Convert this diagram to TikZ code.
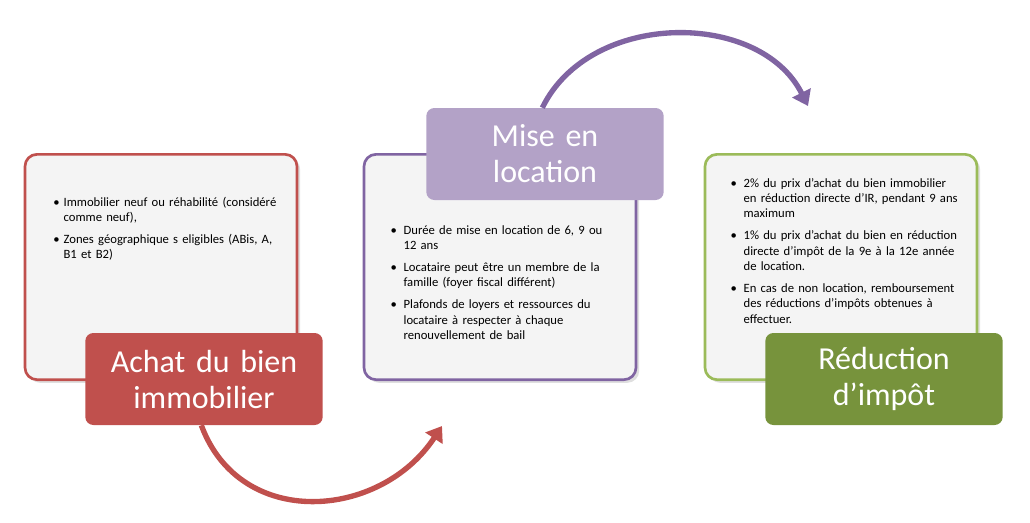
\documentclass[tikz,border=0pt]{standalone}
\usepackage{fontspec}
\setmainfont{Carlito}
\usetikzlibrary{arrows.meta,shadows}
\colorlet{col1}{red!60!black!50!orange!40!red}
\definecolor{col1}{HTML}{C0504D}
\definecolor{col2}{HTML}{8064A2}
\definecolor{col2lt}{HTML}{B3A2C7}
\definecolor{col3}{HTML}{9BBB59}
\definecolor{col3dk}{HTML}{77933C}
\definecolor{boxfill}{HTML}{F4F4F4}

\tikzset{
  infobox/.style={draw, line width=2pt, fill=boxfill, rounded corners=9pt,
    minimum width=204pt, minimum height=169pt, drop shadow={opacity=0.25}},
  titlebox/.style={fill, rounded corners=6pt, minimum width=178pt, minimum height=69pt,
    text width=170pt, align=center, font=\fontsize{24}{27}\selectfont, text=white},
  bullets/.style={anchor=north west, text width=186pt, font=\fontsize{9.5}{11.5}\selectfont, inner sep=0pt},
  cyclearrow/.style={line width=4pt, -{Triangle[width=15pt,length=11pt]}}
}

\begin{document}
\begin{tikzpicture}[x=0.75pt,y=-0.75pt]
  \useasboundingbox (0,0) rectangle (1030,522);

  % box 1
  \node[infobox, draw=col1] (box1) at (161,267) {};
  \node[bullets] (txt1) at (30,180) {\begin{itemize}\setlength{\itemsep}{1pt}\setlength{\leftmargin}{8pt}\setlength{\labelsep}{3pt}
    \item Immobilier neuf ou réhabilité (considéré comme neuf),
    \item Zones géographique s eligibles (ABis, A, B1 et B2)
  \end{itemize}};
  \node[titlebox, fill=col1, text=white] (title1) at (204,379) {Achat du bien\\immobilier};

  % box 2
  \node[infobox, draw=col2] (box2) at (500,267) {};
  \node[bullets] (txt2) at (370,208) {\begin{itemize}\setlength{\itemsep}{1pt}
    \item Durée de mise en location de 6, 9 ou 12 ans
    \item Locataire peut être un membre de la famille (foyer fiscal différent)
    \item Plafonds de loyers et ressources du locataire à respecter à chaque renouvellement de bail
  \end{itemize}};
  \node[titlebox, fill=col2lt] (title2) at (545,154) {Mise en\\location};

  % box 3
  \node[infobox, draw=col3] (box3) at (841,267) {};
  \node[bullets] (txt3) at (710,161) {\begin{itemize}\setlength{\itemsep}{1pt}
    \item 2\% du prix d'achat du bien immobilier en réduction directe d'IR, pendant 9 ans maximum
    \item 1\% du prix d'achat du bien en réduction directe d'impôt de la 9e à la 12e année de location.
    \item En cas de non location, remboursement des réductions d'impôts obtenues à effectuer.
  \end{itemize}};
  \node[titlebox, fill=col3dk] (title3) at (884,379) {Réduction\\d'impôt};

  % cycle arrows
  \coordinate (end1) at (442,426);
  \coordinate (end2) at (808,106);
  \draw[cyclearrow, col1] ([xshift=-2pt]title1.south) .. controls (240,530) and (380,520) .. (end1);
  \draw[cyclearrow, col2] ([xshift=-2pt]title2.north) .. controls (590,10) and (760,10) .. (end2);
\end{tikzpicture}
\end{document}
